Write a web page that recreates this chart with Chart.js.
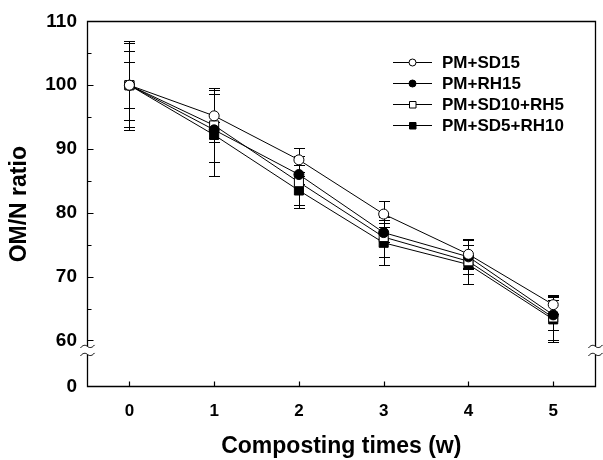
<!DOCTYPE html>
<html>
<head>
<meta charset="utf-8">
<script src="https://cdn.jsdelivr.net/npm/chart.js@4/dist/chart.umd.min.js"></script>
<style>
  html, body { margin: 0; padding: 0; background: #fff; }
  canvas { display: block; }
</style>
</head>
<body>
<canvas id="chart" width="603" height="460"></canvas>
<script>
// データ
const weeks = [0, 1, 2, 3, 4, 5];
const seriesNames = ["PM+SD15", "PM+RH15", "PM+SD10+RH5", "PM+SD5+RH10"];

const sd15 = [100, 95.2, 88.3, 79.8, 73.5, 65.6];
const sd15Err = [7.0, 4.1, 1.9, 2.0, 2.2, 1.4];
const rh15 = [100, 93.0, 86.0, 76.9, 73.1, 64.0];
const rh15Err = [5.4, 1.2, 1.5, 1.5, 1.9, 2.3];
const sd10rh5 = [100, 93.7, 84.8, 76.2, 72.4, 63.6];
const sd10rh5Err = [3.6, 5.8, 4.1, 3.2, 3.5, 3.5];
const sd5rh10 = [100, 92.2, 83.5, 75.3, 71.9, 63.3];
const sd5rh10Err = [6.6, 6.4, 2.3, 3.5, 1.5, 3.5];

// 軸
const xTicks = [0, 1, 2, 3, 4, 5];
const yTicks = [0, 60, 70, 80, 90, 100, 110];
const yMinorTicks = [65, 75, 85, 95, 105];
const yAxisFloor = 52.7;   // 軸の切れ目の下で "0" を置く位置
const yBreakValue = 60;

const FONT = "'Liberation Sans', Arial, sans-serif";

function toPoints(values) {
  return weeks.map((w, i) => ({ x: w, y: values[i] }));
}

function makeDataset(label, values, errors, style, filled) {
  return {
    label,
    data: toPoints(values),
    errors,
    borderColor: "#000",
    borderWidth: 1,
    pointStyle: style,
    pointRadius: style === "rect" ? 6.4 : 5,
    pointBorderWidth: 1,
    pointBorderColor: "#000",
    pointBackgroundColor: filled ? "#000" : "#fff",
    fill: false,
    tension: 0
  };
}

const datasets = [
  makeDataset(seriesNames[0], sd15, sd15Err, "circle", false),
  makeDataset(seriesNames[1], rh15, rh15Err, "circle", true),
  makeDataset(seriesNames[2], sd10rh5, sd10rh5Err, "rect", false),
  makeDataset(seriesNames[3], sd5rh10, sd5rh10Err, "rect", true)
];

// エラーバー
const errorBars = {
  id: "errorBars",
  beforeDatasetsDraw(chart) {
    const { ctx, scales: { x, y } } = chart;
    ctx.save();
    ctx.strokeStyle = "#000";
    ctx.lineWidth = 1;
    chart.data.datasets.forEach(ds => {
      ds.data.forEach((p, i) => {
        const e = ds.errors[i];
        const px = Math.round(x.getPixelForValue(p.x)) + 0.5;
        const top = Math.round(y.getPixelForValue(p.y + e)) + 0.5;
        const bot = Math.round(y.getPixelForValue(p.y - e)) + 0.5;
        ctx.beginPath();
        ctx.moveTo(px, top); ctx.lineTo(px, bot);
        ctx.moveTo(px - 5.5, top); ctx.lineTo(px + 5.5, top);
        ctx.moveTo(px - 5.5, bot); ctx.lineTo(px + 5.5, bot);
        ctx.stroke();
      });
    });
    ctx.restore();
  }
};

function squiggle(ctx, cx, cy) {
  ctx.beginPath();
  ctx.moveTo(cx - 7, cy + 1.5);
  ctx.bezierCurveTo(cx - 4, cy - 2.5, cx - 1, cy - 1, cx, cy);
  ctx.bezierCurveTo(cx + 1, cy + 1, cx + 4, cy + 2.5, cx + 7, cy - 1.5);
  ctx.stroke();
}

// 枠・目盛り・軸の切れ目・凡例
const frame = {
  id: "frame",
  afterDraw(chart) {
    const { ctx, chartArea: a, scales: { x, y } } = chart;
    const L = Math.round(a.left) + 0.5, R = Math.round(a.right) - 0.5;
    const T = Math.round(a.top) + 0.5, B = Math.round(a.bottom) - 0.5;
    const y60 = y.getPixelForValue(yBreakValue);
    const gapTop = y60 + 6, gapBot = y60 + 14;

    ctx.save();
    ctx.strokeStyle = "#000";
    ctx.lineWidth = 1.3;
    ctx.beginPath();
    ctx.moveTo(L, gapTop); ctx.lineTo(L, T); ctx.lineTo(R, T); ctx.lineTo(R, gapTop);
    ctx.moveTo(L, gapBot); ctx.lineTo(L, B); ctx.lineTo(R, B); ctx.lineTo(R, gapBot);
    ctx.stroke();

    ctx.lineWidth = 1;
    squiggle(ctx, L, gapTop);
    squiggle(ctx, L, gapBot);
    squiggle(ctx, R, gapTop);
    squiggle(ctx, R, gapBot);

    // 内向きの目盛り
    ctx.lineWidth = 1.2;
    ctx.beginPath();
    yTicks.filter(v => v >= yBreakValue).forEach(v => {
      const py = Math.round(y.getPixelForValue(v)) + 0.5;
      ctx.moveTo(L, py); ctx.lineTo(L + 6, py);
    });
    yMinorTicks.forEach(v => {
      const py = Math.round(y.getPixelForValue(v)) + 0.5;
      ctx.moveTo(L, py); ctx.lineTo(L + 4, py);
    });
    xTicks.forEach(v => {
      const px = Math.round(x.getPixelForValue(v)) + 0.5;
      ctx.moveTo(px, B); ctx.lineTo(px, B - 5);
    });
    ctx.stroke();

    // 凡例
    ctx.font = "bold 17px " + FONT;
    ctx.textBaseline = "middle";
    ctx.fillStyle = "#000";
    chart.data.datasets.forEach((ds, i) => {
      const ry = Math.round(62 + i * 21) + 0.5;
      ctx.lineWidth = 1;
      ctx.beginPath();
      ctx.moveTo(393, ry); ctx.lineTo(432, ry);
      ctx.stroke();
      ctx.fillStyle = ds.pointBackgroundColor;
      ctx.beginPath();
      if (ds.pointStyle === "circle") {
        ctx.arc(412.5, ry, 3.5, 0, Math.PI * 2);
      } else {
        ctx.rect(409.5, ry - 3, 6.5, 6.5);
      }
      ctx.fill();
      ctx.stroke();
      ctx.fillStyle = "#000";
      ctx.fillText(ds.label, 442, ry + 1);
    });
    ctx.restore();
  }
};

new Chart(document.getElementById("chart"), {
  type: "line",
  data: { datasets },
  options: {
    responsive: false,
    animation: false,
    devicePixelRatio: 1,
    layout: { padding: { top: 18, right: 3, left: 0, bottom: 0 } },
    plugins: {
      legend: { display: false },
      tooltip: { enabled: false }
    },
    scales: {
      x: {
        type: "linear",
        min: -0.5,
        max: 5.5,
        afterBuildTicks: s => { s.ticks = xTicks.map(v => ({ value: v })); },
        afterFit: s => { s.height = 73; },
        grid: { display: false, drawTicks: false },
        border: { display: false },
        ticks: {
          padding: 14,
          color: "#000",
          font: { family: FONT, size: 17, weight: "bold" }
        },
        title: {
          display: true,
          text: "Composting times (w)",
          color: "#000",
          padding: { top: 0, bottom: 0 },
          font: { family: FONT, size: 23, weight: "bold" }
        }
      },
      y: {
        type: "linear",
        min: yAxisFloor,
        max: 110,
        afterBuildTicks: s => {
          s.ticks = yTicks.map(v => ({ value: v === 0 ? yAxisFloor : v }));
        },
        afterFit: s => { s.width = 87; },
        grid: { display: false, drawTicks: false },
        border: { display: false },
        ticks: {
          padding: 10,
          color: "#000",
          font: { family: FONT, size: 19, weight: "bold" },
          callback: v => (v === yAxisFloor ? "0" : String(v))
        },
        title: {
          display: true,
          text: "OM/N ratio",
          color: "#000",
          padding: { top: 6, bottom: 0 },
          font: { family: FONT, size: 23, weight: "bold" }
        }
      }
    }
  },
  plugins: [errorBars, frame]
});
</script>
</body>
</html>
